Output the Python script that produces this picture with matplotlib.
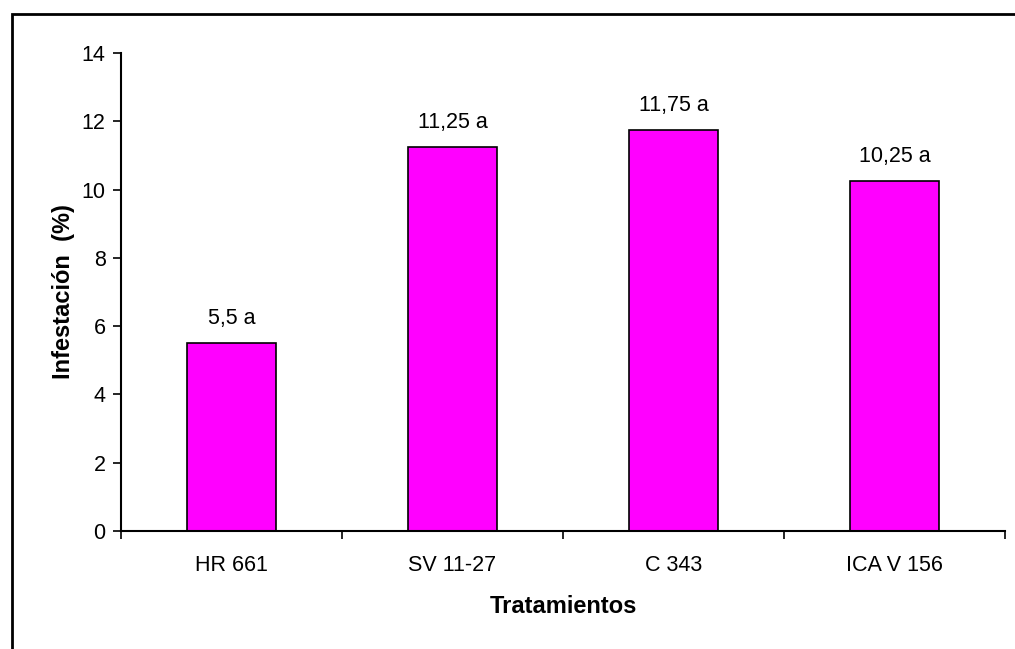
import matplotlib.pyplot as plt
from matplotlib.patches import Rectangle

plt.rcParams['font.family'] = ['Liberation Sans', 'DejaVu Sans']

tratamientos = ['HR 661', 'SV 11-27', 'C 343', 'ICA V 156']
infestacion = [5.5, 11.25, 11.75, 10.25]
etiquetas = ['5,5 a', '11,25 a', '11,75 a', '10,25 a']
yticks = [0, 2, 4, 6, 8, 10, 12, 14]

fig = plt.figure(figsize=(10.15, 6.49), dpi=100)
ax = fig.add_axes([121 / 1015, 1 - 531 / 649, 884 / 1015, 478 / 649])

# marco exterior del gráfico
fig.patches.append(Rectangle((11.5 / 1015, -0.1), 1.2, 1 - 13.5 / 649 + 0.1,
                             transform=fig.transFigure, fill=False,
                             edgecolor='black', linewidth=2))

x = range(len(tratamientos))
ax.bar(x, infestacion, width=0.4, color='#FF00FF', edgecolor='black', linewidth=1.2)

for xi, v, lab in zip(x, infestacion, etiquetas):
    ax.annotate(lab, (xi, v), xytext=(0, 10), textcoords='offset points',
                ha='center', va='bottom', fontsize=15.5)

ax.set_xlim(-0.5, len(tratamientos) - 0.5)
ax.set_ylim(0, 14)
ax.set_yticks(yticks)
ax.set_xticks([i - 0.5 for i in range(len(tratamientos) + 1)])
ax.set_xticklabels([])
ax.set_xticks(list(x), minor=True)
ax.set_xticklabels(tratamientos, minor=True, fontsize=15.5)
ax.tick_params(axis='x', which='minor', length=0, pad=17)
ax.tick_params(axis='x', which='major', direction='out', length=6, width=1.2)
ax.tick_params(axis='y', direction='out', length=6, width=1.2, labelsize=15.5, pad=5)

for s in ['top', 'right']:
    ax.spines[s].set_visible(False)
for s in ['left', 'bottom']:
    ax.spines[s].set_linewidth(1.5)

ax.set_xlabel('Tratamientos', fontsize=17, fontweight='bold', labelpad=14)
ax.set_ylabel('Infestación  (%)', fontsize=17, fontweight='bold', labelpad=5)

fig.savefig('out.png', dpi=100)
